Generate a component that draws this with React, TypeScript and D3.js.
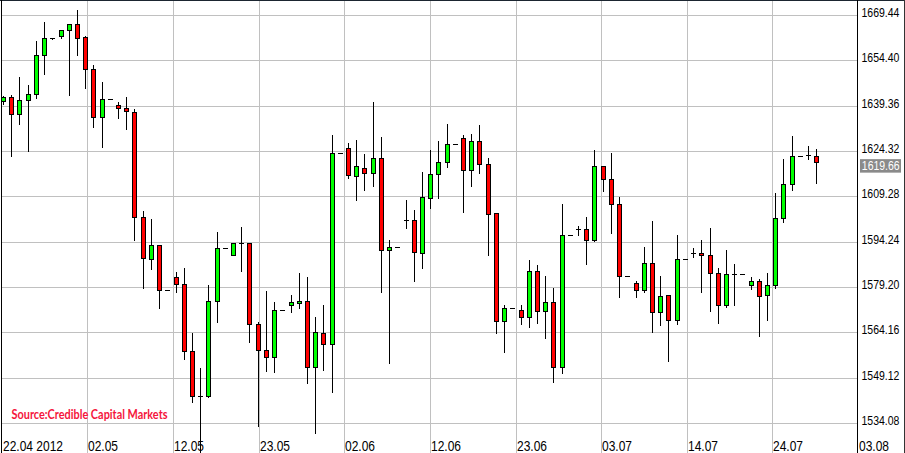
import React from 'react';
import * as d3 from 'd3';

const W = 905;
const H = 453;

const opens = [
  1640.95, 1642.28, 1636.64, 1641.39, 1643.27, 1656.22, 1661.86, 1662.53, 1664.52, 1666.51,
  1662.19, 1651.57, 1635.64, 1641.61, 1639.62, 1638.63, 1637.30, 1602.78, 1588.84, 1593.49,
  1578.55, 1582.64, 1580.54, 1558.30, 1543.14, 1543.36, 1574.90, 1592.49, 1590.17, 1594.15,
  1594.15, 1567.26, 1558.63, 1556.31, 1571.91, 1573.57, 1574.12, 1574.90, 1553.00, 1564.28,
  1560.62, 1623.69, 1625.35, 1616.28, 1619.04, 1617.38, 1622.36, 1591.60, 1592.82, 1601.56,
  1601.78, 1590.83, 1609.09, 1617.05, 1621.03, 1626.68, 1628.67, 1618.38, 1627.68, 1620.37,
  1604.11, 1568.26, 1572.57, 1571.91, 1569.58, 1584.85, 1571.57, 1574.57, 1553.00, 1596.80,
  1598.68, 1598.68, 1595.13, 1619.70, 1615.39, 1607.10, 1583.19, 1580.87, 1578.55, 1587.51,
  1571.24, 1576.89, 1568.59, 1588.84, 1590.83, 1590.83, 1590.17, 1584.19, 1573.57, 1583.86,
  1583.86, 1580.21, 1581.53, 1576.89, 1580.21, 1602.45, 1613.51, 1622.80, 1623.03, 1622.80,
];
const highs = [
  1642.72, 1642.94, 1648.92, 1646.37, 1660.98, 1667.28, 1661.97, 1664.63, 1666.62, 1671.27,
  1662.64, 1652.90, 1647.37, 1641.61, 1640.62, 1642.39, 1638.41, 1604.55, 1601.89, 1593.49,
  1578.55, 1584.30, 1585.63, 1564.16, 1552.44, 1579.99, 1597.58, 1592.49, 1594.15, 1599.24,
  1594.15, 1567.82, 1577.99, 1574.35, 1571.91, 1576.67, 1583.97, 1582.64, 1569.36, 1573.35,
  1629.78, 1623.69, 1627.01, 1628.12, 1623.47, 1640.73, 1629.11, 1594.92, 1592.82, 1608.20,
  1604.88, 1617.49, 1624.69, 1627.79, 1633.43, 1626.68, 1629.78, 1630.11, 1633.10, 1622.14,
  1604.11, 1573.35, 1572.57, 1573.35, 1588.29, 1586.85, 1582.97, 1578.99, 1606.87, 1596.80,
  1599.57, 1602.56, 1624.69, 1619.70, 1623.80, 1609.42, 1583.19, 1581.53, 1592.82, 1601.23,
  1583.19, 1576.89, 1596.80, 1588.84, 1592.49, 1594.92, 1598.90, 1585.85, 1591.60, 1587.18,
  1583.86, 1582.86, 1582.20, 1584.19, 1610.52, 1621.81, 1629.44, 1622.80, 1626.12, 1625.13,
];
const lows = [
  1640.07, 1622.92, 1633.54, 1624.47, 1642.17, 1650.13, 1661.75, 1662.08, 1643.05, 1656.33,
  1645.49, 1632.32, 1625.90, 1641.61, 1635.53, 1631.88, 1595.03, 1579.21, 1585.41, 1572.57,
  1578.55, 1577.66, 1555.43, 1541.26, 1524.20, 1542.92, 1567.82, 1592.49, 1590.17, 1584.74,
  1561.17, 1533.30, 1551.55, 1551.22, 1571.91, 1571.13, 1572.57, 1547.57, 1530.97, 1551.89,
  1544.58, 1623.69, 1615.61, 1608.31, 1611.52, 1612.96, 1577.77, 1554.21, 1592.82, 1599.02,
  1581.42, 1585.74, 1605.66, 1608.98, 1619.26, 1626.68, 1604.33, 1612.96, 1617.27, 1590.06,
  1564.28, 1557.86, 1572.57, 1567.26, 1566.15, 1567.48, 1562.50, 1547.91, 1550.89, 1596.80,
  1596.80, 1587.07, 1594.70, 1611.30, 1597.36, 1576.11, 1583.19, 1576.11, 1577.88, 1564.50,
  1566.93, 1554.87, 1567.26, 1588.84, 1589.39, 1577.77, 1571.58, 1567.59, 1572.91, 1573.57,
  1583.86, 1578.88, 1563.17, 1568.37, 1579.21, 1601.01, 1611.52, 1622.80, 1621.70, 1613.95,
];
const closes = [
  1642.39, 1636.64, 1641.39, 1643.27, 1656.22, 1661.86, 1661.86, 1664.52, 1666.51, 1661.86,
  1651.57, 1635.64, 1641.61, 1641.61, 1638.63, 1637.63, 1602.78, 1589.17, 1593.49, 1578.55,
  1578.55, 1580.54, 1558.30, 1543.14, 1543.14, 1574.90, 1592.49, 1592.49, 1594.15, 1594.15,
  1567.26, 1558.63, 1556.31, 1571.91, 1571.91, 1574.35, 1574.90, 1553.00, 1564.61, 1560.62,
  1623.69, 1623.69, 1616.72, 1619.38, 1617.38, 1622.36, 1591.60, 1592.82, 1592.82, 1601.56,
  1591.16, 1609.31, 1617.05, 1621.03, 1626.68, 1626.68, 1618.05, 1627.68, 1620.37, 1603.77,
  1568.26, 1572.57, 1572.57, 1569.58, 1584.85, 1571.57, 1574.57, 1553.00, 1596.80, 1596.80,
  1598.68, 1595.13, 1619.70, 1615.39, 1607.10, 1583.19, 1583.19, 1578.55, 1587.51, 1571.24,
  1576.55, 1568.59, 1588.84, 1588.84, 1590.83, 1590.17, 1584.19, 1573.57, 1583.86, 1583.86,
  1583.86, 1581.53, 1576.55, 1580.21, 1602.45, 1613.51, 1622.80, 1622.80, 1623.03, 1620.92,
];

const priceTicks = [1669.44, 1654.40, 1639.36, 1624.32, 1609.28, 1594.24, 1579.20, 1564.16, 1549.12, 1534.08];
const dateLabels = ['22.04 2012', '02.05', '12.05', '23.05', '02.06', '12.06', '23.06', '03.07', '14.07', '24.07', '03.08'];
const dateTickBars = [-0.17, 10.26, 20.68, 31.11, 41.53, 51.96, 62.39, 72.81, 83.24, 93.66, 104.09];
const lastPrice = 1619.66;
const sourceText = 'Source:Credible Capital Markets';

const PLOT_RIGHT = 857.5;

export default function App() {
  const x = d3.scaleLinear().domain([0, 99]).range([3, 816.3]);
  const y = d3.scaleLinear().domain([1534.08, 1669.44]).range([423.6, 15.6]);
  const fmt = d3.format('.2f');

  const candles = opens.map((o, i) => {
    const c = closes[i];
    const h = highs[i];
    const l = lows[i];
    const cx = Math.round(x(i));
    const yH = Math.round(y(h));
    const yL = Math.round(y(l));
    const yO = y(o);
    const yC = y(c);
    const isDoji = Math.abs(o - c) < 0.05;
    const els: React.ReactNode[] = [];
    if (yL - yH > 0) {
      els.push(
        <line key="w" x1={cx + 0.5} x2={cx + 0.5} y1={yH} y2={yL + 1} stroke="#000" strokeWidth={1} />
      );
    }
    if (isDoji) {
      const yy = Math.round(yO) + 0.5;
      els.push(<line key="d" x1={cx - 2} x2={cx + 3} y1={yy} y2={yy} stroke="#000" strokeWidth={1} />);
    } else {
      const top = Math.round(Math.min(yO, yC));
      const bot = Math.round(Math.max(yO, yC));
      els.push(
        <rect
          key="b"
          x={cx - 2 + 0.5}
          y={top + 0.5}
          width={4}
          height={Math.max(1, bot - top)}
          fill={c > o ? '#00ff00' : '#ff0000'}
          stroke="#000"
          strokeWidth={1}
        />
      );
    }
    return <g key={i}>{els}</g>;
  });

  const lastY = y(lastPrice);

  return (
    <svg
      width={W}
      height={H}
      viewBox={`0 0 ${W} ${H}`}
      style={{ position: 'absolute', left: 0, top: 0, background: '#fff' }}
    >
      <rect x={0} y={0} width={W} height={H} fill="#fff" />
      {/* horizontal grid */}
      {priceTicks.map((p) => {
        const yy = Math.floor(y(p)) + 0.5;
        return <line key={'h' + p} x1={1} x2={PLOT_RIGHT} y1={yy} y2={yy} stroke="#c0c0c0" strokeWidth={1} />;
      })}
      {/* vertical grid */}
      {dateTickBars.slice(1, -1).map((b) => {
        const xx = Math.round(x(b)) + 0.5;
        return <line key={'v' + b} x1={xx} x2={xx} y1={1} y2={H} stroke="#c0c0c0" strokeWidth={1} />;
      })}
      {/* source text */}
      <text
        x={11.5}
        y={418.5}
        fontFamily="Lato, 'Open Sans', sans-serif"
        fontWeight="bold"
        fontSize={13}
        fill="#f5153c"
        textLength={156}
        lengthAdjust="spacingAndGlyphs"
      >
        {sourceText}
      </text>
      {/* candles */}
      {candles}
      {/* borders */}
      <line x1={0} x2={W} y1={0.5} y2={0.5} stroke="#1b2530" strokeWidth={1} />
      <line x1={1.5} x2={1.5} y1={0} y2={H} stroke="#000" strokeWidth={1} />
      <line x1={PLOT_RIGHT} x2={PLOT_RIGHT} y1={0} y2={H} stroke="#000" strokeWidth={1} />
      <line x1={904.5} x2={904.5} y1={0} y2={H} stroke="#333" strokeWidth={1} />
      {/* right price labels */}
      {priceTicks.map((p) => (
        <text
          key={'pl' + p}
          transform={`translate(861.5, ${y(p) + 1.5}) scale(1,1.2)`}
          fontFamily="'Liberation Sans', Arial, sans-serif"
          fontSize={10.5}
          fill="#000"
        >
          {fmt(p)}
        </text>
      ))}
      {/* last price box */}
      <rect x={860} y={lastY - 6.5} width={41} height={13.5} fill="#8a8a8a" />
      <text
        transform={`translate(861.8, ${lastY + 4.8}) scale(1,1.2)`}
        fontFamily="'Liberation Sans', Arial, sans-serif"
        fontSize={10.5}
        fill="#fff"
      >
        {fmt(lastPrice)}
      </text>
      {/* date labels */}
      {dateLabels.map((d, i) => {
        const xx = Math.round(x(dateTickBars[i])) + 0.5;
        return (
          <text
            key={'dl' + i}
            transform={`translate(${xx + (i === 0 ? 0.5 : 0.5)}, 451) scale(1,1.25)`}
            fontFamily="'Liberation Sans', Arial, sans-serif"
            fontSize={12}
            fill="#000"
          >
            {d}
          </text>
        );
      })}
    </svg>
  );
}
